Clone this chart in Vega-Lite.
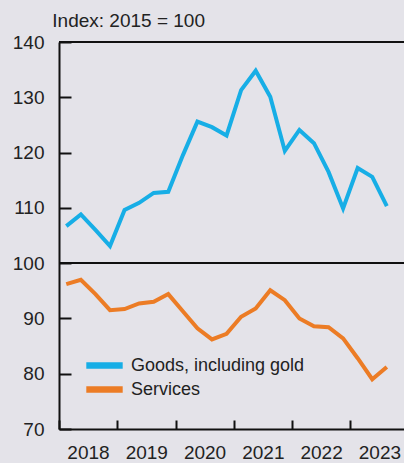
{
  "$schema": "https://vega.github.io/schema/vega-lite/v6.json",
  "width": 345,
  "height": 387,
  "autosize": {"type": "none"},
  "padding": {"left": 59, "top": 42, "right": 0, "bottom": 34},
  "background": "#e4e3e9",
  "config": {
    "view": {"stroke": null},
    "font": "Liberation Sans",
    "axis": {"grid": false, "domainColor": "#111", "domainWidth": 2, "tickColor": "#111", "tickWidth": 2, "labelColor": "#222", "labelFont": "Liberation Sans", "labelFontSize": 19, "title": null}
  },
  "title": {"text": "Index: 2015 = 100", "anchor": "start", "fontSize": 19, "fontWeight": "normal", "color": "#222", "font": "Liberation Sans", "baseline": "alphabetic", "offset": 10, "dx": 40, "dy": 23},
  "data": {
    "values": [
      {"year": 2018.125, "goods": 106.7, "services": 96.2},
      {"year": 2018.375, "goods": 108.8, "services": 97.0},
      {"year": 2018.625, "goods": 106.0, "services": 94.4},
      {"year": 2018.875, "goods": 103.1, "services": 91.5},
      {"year": 2019.125, "goods": 109.6, "services": 91.7},
      {"year": 2019.375, "goods": 110.9, "services": 92.7},
      {"year": 2019.625, "goods": 112.7, "services": 93.0},
      {"year": 2019.875, "goods": 112.9, "services": 94.4},
      {"year": 2020.125, "goods": 119.5, "services": 91.3},
      {"year": 2020.375, "goods": 125.6, "services": 88.2},
      {"year": 2020.625, "goods": 124.6, "services": 86.2},
      {"year": 2020.875, "goods": 123.1, "services": 87.2},
      {"year": 2021.125, "goods": 131.3, "services": 90.3},
      {"year": 2021.375, "goods": 134.8, "services": 91.8},
      {"year": 2021.625, "goods": 130.1, "services": 95.1},
      {"year": 2021.875, "goods": 120.3, "services": 93.3},
      {"year": 2022.125, "goods": 124.1, "services": 90.0},
      {"year": 2022.375, "goods": 121.7, "services": 88.6},
      {"year": 2022.625, "goods": 116.5, "services": 88.4},
      {"year": 2022.875, "goods": 109.9, "services": 86.4},
      {"year": 2023.125, "goods": 117.2, "services": 82.8},
      {"year": 2023.375, "goods": 115.6, "services": 79.0},
      {"year": 2023.625, "goods": 110.3, "services": 81.2}
    ]
  },
  "layer": [
    {
      "mark": {"type": "rule", "color": "#111", "strokeWidth": 1},
      "encoding": {"y": {"datum": 100, "type": "quantitative"}}
    },
    {
      "mark": {"type": "rule", "color": "#111", "strokeWidth": 2},
      "encoding": {"y": {"datum": 140, "type": "quantitative"}}
    },
    {
      "transform": [
        {"fold": ["goods", "services"], "as": ["key", "value"]},
        {"lookup": "key", "from": {"data": {"values": [{"key": "goods", "label": "Goods, including gold"}, {"key": "services", "label": "Services"}]}, "key": "key", "fields": ["label"]}}
      ],
      "mark": {"type": "line", "strokeWidth": 4, "strokeJoin": "miter"},
      "encoding": {
        "x": {
          "field": "year", "type": "quantitative",
          "scale": {"domain": [2018, 2023.92], "nice": false, "zero": false},
          "axis": {"values": [2018, 2019, 2020, 2021, 2022, 2023], "format": "d", "tickSize": -9, "labelOffset": 29, "labelFlush": false, "labelOverlap": false, "labelBound": false, "labelPadding": 23}
        },
        "y": {
          "field": "value", "type": "quantitative",
          "scale": {"domain": [70, 140], "nice": false, "zero": false},
          "axis": {"values": [70, 80, 90, 100, 110, 120, 130, 140], "tickSize": -12, "labelPadding": 27}
        },
        "color": {
          "field": "label", "type": "nominal",
          "scale": {"domain": ["Goods, including gold", "Services"], "range": ["#17aee6", "#ec7c25"]},
          "legend": {"title": null, "orient": "none", "legendX": 35, "legendY": 313, "padding": 0, "symbolType": "M-2.6,0H2.6", "symbolStrokeWidth": 6.5, "symbolSize": 196, "labelFontSize": 18, "labelColor": "#222", "labelFont": "Liberation Sans", "labelOffset": 16, "labelLimit": 400, "rowPadding": -7}
        }
      }
    }
  ]
}
